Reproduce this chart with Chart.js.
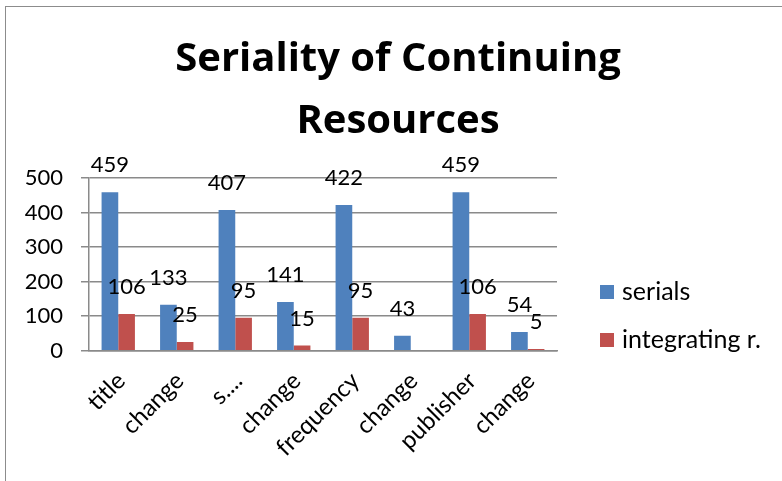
<!DOCTYPE html>
<html>
<head>
<meta charset="utf-8">
<script src="https://cdn.jsdelivr.net/npm/chart.js@4"></script>
<style>
  html, body { margin: 0; padding: 0; background: #fff; }
  #wrap { position: relative; width: 782px; height: 481px; overflow: hidden; }
  #frame { position: absolute; left: 5px; top: 6px; width: 820px; height: 520px; border: 1px solid #8c8c8c; box-sizing: border-box; }
  canvas { position: absolute; left: 0; top: 0; }
</style>
</head>
<body>
<div id="wrap">
  <div id="frame"></div>
  <canvas id="c" width="782" height="481"></canvas>
</div>
<script>
const categories = ["title", "change", "s....", "change", "frequency", "change", "publisher", "change"];
const serials = [459, 133, 407, 141, 422, 43, 459, 54];
const integrating = [106, 25, 95, 15, 95, null, 106, 5];
const seriesNames = ["serials", "integrating r."];
const yTicks = [0, 100, 200, 300, 400, 500];
const titleLines = ["Seriality of Continuing", "Resources"];

const FONT = "Lato, 'Open Sans', sans-serif";

const valueLabels = {
  id: 'valueLabels',
  afterDatasetsDraw(chart) {
    const ctx = chart.ctx;
    ctx.save();
    ctx.font = "22px " + FONT;
    ctx.fillStyle = "#000";
    ctx.textAlign = "center";
    ctx.textBaseline = "middle";
    chart.data.datasets.forEach((ds, di) => {
      const meta = chart.getDatasetMeta(di);
      meta.data.forEach((bar, i) => {
        const v = ds.data[i];
        if (v === null || v === undefined) return;
        ctx.fillText(String(v), bar.x, bar.y - 27);
      });
    });
    ctx.restore();
  }
};

const customLegend = {
  id: 'customLegend',
  afterDraw(chart) {
    const ctx = chart.ctx;
    const area = chart.chartArea;
    ctx.save();
    ctx.font = "25px " + FONT;
    ctx.textBaseline = "middle";
    ctx.textAlign = "left";
    const x0 = area.right + 43;
    const yc = 316;
    const gap = 48;
    const n = chart.data.datasets.length;
    chart.data.datasets.forEach((ds, i) => {
      const y = yc + (i - (n - 1) / 2) * gap;
      ctx.fillStyle = ds.backgroundColor;
      ctx.fillRect(x0, y - 7, 14, 14);
      ctx.fillStyle = "#000";
      ctx.fillText(ds.label, x0 + 22, y);
    });
    ctx.restore();
  }
};

new Chart(document.getElementById('c'), {
  type: 'bar',
  data: {
    labels: categories,
    datasets: [
      { label: seriesNames[0], data: serials, backgroundColor: "#4F81BD", categoryPercentage: 0.57, barPercentage: 1.0 },
      { label: seriesNames[1], data: integrating, backgroundColor: "#C0504D", categoryPercentage: 0.57, barPercentage: 1.0 }
    ]
  },
  options: {
    responsive: false,
    animation: false,
    layout: { padding: { left: 14, right: 0, top: 0, bottom: 3 } },
    plugins: {
      legend: { display: false },
      tooltip: { enabled: false },
      title: {
        display: true,
        text: titleLines,
        color: "#000",
        font: { family: "'Open Sans', Lato, sans-serif", size: 40, weight: 'bold', lineHeight: 1.55 },
        padding: { top: 29, bottom: 25 }
      }
    },
    scales: {
      x: {
        grid: { display: false, drawTicks: false },
        border: { display: true, color: "#8a8a8a", width: 1.5 },
        ticks: { color: "#000", font: { family: FONT, size: 24 }, minRotation: 45, maxRotation: 45, padding: 16, labelOffset: 3, autoSkip: false }
      },
      y: {
        min: 0, max: 500,
        afterBuildTicks(scale) { scale.ticks = yTicks.map(v => ({ value: v })); },
        afterFit(scale) { scale.width = 75; },
        grid: { color: "#8a8a8a", lineWidth: 1.5, tickLength: 8, drawTicks: true },
        border: { display: true, color: "#8a8a8a", width: 1.5 },
        ticks: { color: "#000", font: { family: FONT, size: 22 }, padding: 18 }
      },
      gap: {
        position: 'right',
        display: true,
        grid: { display: false },
        border: { display: false },
        ticks: { display: false },
        afterFit(scale) { scale.width = 225; }
      }
    }
  },
  plugins: [valueLabels, customLegend]
});
</script>
</body>
</html>
